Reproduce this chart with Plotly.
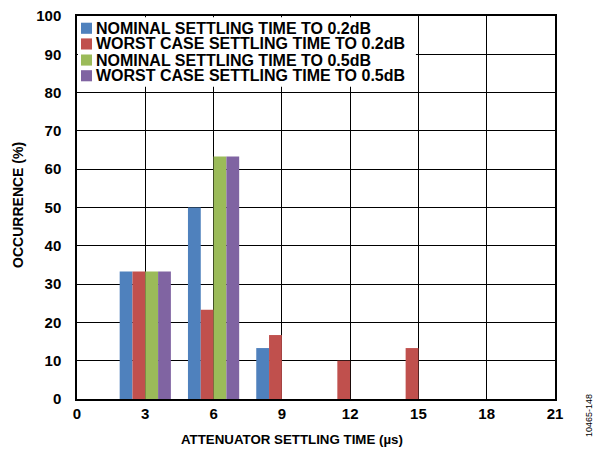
import plotly.graph_objects as go

# settling time bins (us)
times = [3, 6, 9, 12, 15]
x_ticks = [0, 3, 6, 9, 12, 15, 18, 21]
y_ticks = [0, 10, 20, 30, 40, 50, 60, 70, 80, 90, 100]

nominal_02 = [33.3, 50.0, 13.3, 0, 0]
worst_02 = [33.3, 23.3, 16.7, 10.0, 13.3]
nominal_05 = [33.3, 63.3, 0, 0, 0]
worst_05 = [33.3, 63.3, 0, 0, 0]

series = [
    ("NOMINAL SETTLING TIME TO 0.2dB", nominal_02, "#4F81BD"),
    ("WORST CASE SETTLING TIME TO 0.2dB", worst_02, "#C0504D"),
    ("NOMINAL SETTLING TIME TO 0.5dB", nominal_05, "#9BBB59"),
    ("WORST CASE SETTLING TIME TO 0.5dB", worst_05, "#8064A2"),
]

font_family = "Liberation Sans, Arial, sans-serif"

fig = go.Figure()
for name, vals, color in series:
    fig.add_trace(go.Bar(x=times, y=vals, name=name, showlegend=False,
                         marker_color=color, marker_line_width=0))

fig.update_layout(
    width=597, height=453,
    margin=dict(l=77, r=42, t=16, b=54),
    barmode="group", bargap=0.25, bargroupgap=0,
    plot_bgcolor="white", paper_bgcolor="white",
    font=dict(family=font_family, color="black"),
)

fig.update_xaxes(
    range=[0, 21], tickvals=x_ticks, ticktext=["<b>%d</b>" % t for t in x_ticks],
    showgrid=True, gridcolor="black", gridwidth=1,
    showline=True, linecolor="black", linewidth=1.5, mirror=True,
    tickfont=dict(size=15), ticks="", ticklabelstandoff=0,
    zeroline=False, automargin=False,
)
fig.update_yaxes(
    range=[0, 100], tickvals=y_ticks, ticktext=["<b>%d</b>" % t for t in y_ticks],
    showgrid=True, gridcolor="black", gridwidth=1,
    showline=True, linecolor="black", linewidth=1.5, mirror=True,
    tickfont=dict(size=15), ticks="", ticklabelstandoff=11,
    zeroline=False, automargin=False,
)

# axis titles
fig.add_annotation(text="<b>ATTENUATOR SETTLING TIME (µs)</b>", showarrow=False,
                   xref="paper", yref="paper", x=0.45, y=-0.107,
                   xanchor="center", yanchor="middle", font=dict(size=13.3))
fig.add_annotation(text="<b>OCCURRENCE (%)</b>", textangle=-90, showarrow=False,
                   xref="paper", yref="paper", x=-0.122, y=0.506,
                   xanchor="center", yanchor="middle", font=dict(size=14))

# legend block in the top-left corner of the plot
fig.add_shape(type="rect", xref="paper", yref="paper", x0=0.002, x1=0.709,
              y0=0.815, y1=0.997, fillcolor="white", line_width=0, layer="above")
row_y = [0.968, 0.927, 0.885, 0.844]
for (name, vals, color), ry in zip(series, row_y):
    fig.add_shape(type="rect", xref="paper", yref="paper",
                  x0=0.0084, x1=0.0314, y0=ry - 0.0145, y1=ry + 0.0145,
                  fillcolor=color, line_width=0, layer="above")
    fig.add_annotation(text="<b>%s</b>" % name, showarrow=False,
                       xref="paper", yref="paper", x=0.038, y=ry,
                       xanchor="left", yanchor="middle", borderpad=0,
                       font=dict(size=16))

fig.add_annotation(
    text="10465-148", textangle=-90, showarrow=False,
    xref="paper", yref="paper", x=1.071, y=-0.042,
    xanchor="center", yanchor="middle",
    font=dict(size=9),
)

# drop the default 8px page margin so the figure fills the window
fig.write_html("out.html", config={"displayModeBar": False},
               post_script="document.body.style.margin='0';")
